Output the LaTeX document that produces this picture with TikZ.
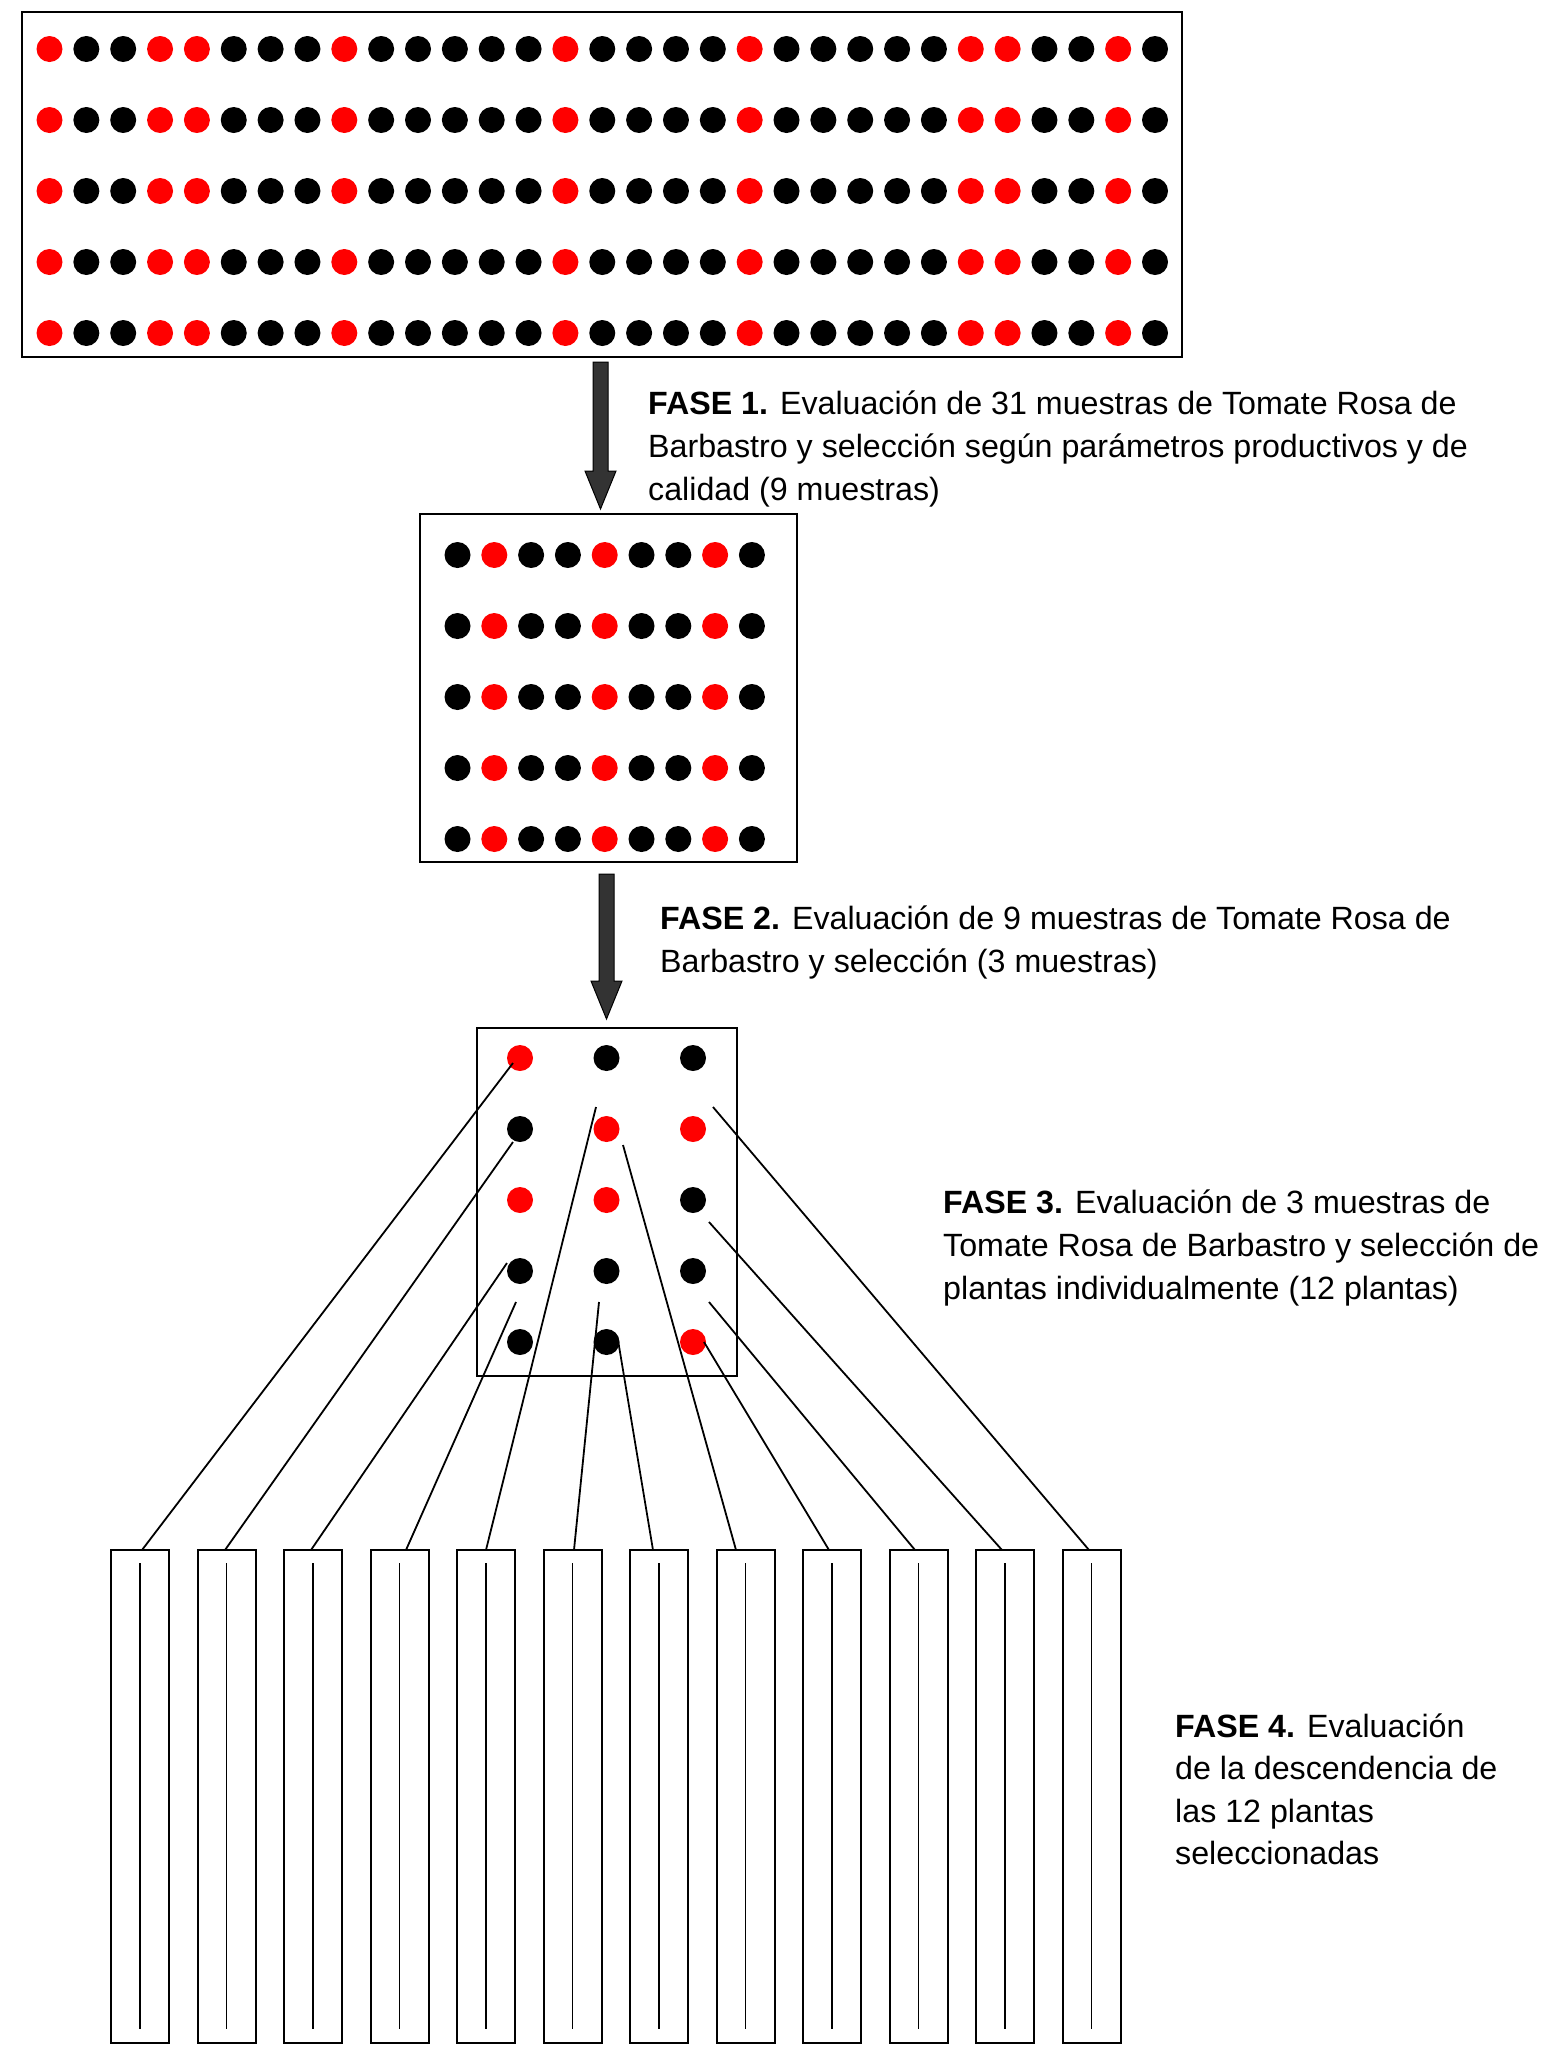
\documentclass[tikz,border=0pt]{standalone}
\usepackage{fontspec}
\setmainfont{Liberation Sans}
\definecolor{arrowgray}{HTML}{333333}
\begin{document}
\begin{tikzpicture}[x=1pt,y=-1pt,
  frame/.style={draw, line width=2pt, inner sep=0pt},
  dotB/.style={circle, fill=black, inner sep=0pt, minimum size=26pt},
  dotR/.style={circle, fill=red, inner sep=0pt, minimum size=26pt},
  conn/.style={line width=1.8pt},
  plotbox/.style={draw, line width=2pt, inner sep=0pt, minimum width=58pt, minimum height=493pt},
  blockarrow/.style={fill=arrowgray, draw=black, line width=1pt},
  txt/.style={anchor=base west, inner sep=0pt, font=\fontsize{32.2}{43}\selectfont}]
\useasboundingbox (0,0) rectangle (1542,2046);

% ---------- Phase 0: field with 31 samples
\node[frame, minimum width=1160pt, minimum height=345pt] (field) at (602,184.5) {};
\foreach \r in {1,...,5}{
  \foreach \c [count=\i] in {R,B,B,R,R,B,B,B,R,B,B,B,B,B,R,B,B,B,B,R,B,B,B,B,B,R,R,B,B,R,B}{
    \node[dot\c] (t-\r-\i) at ({49.5+(\i-1)*36.85},{49+(\r-1)*71}) {};
  }
}

% ---------- arrow 1
\begin{scope}[shift={(600.5,362)}]
  \path[blockarrow] (-7.5,0) -- (7.5,0) -- (7.5,109) -- (15.5,109) -- (0,147) -- (-15.5,109) -- (-7.5,109) -- cycle;
\end{scope}

\node[txt] (f1a) at (648,414) {\textbf{FASE 1.} Evaluación de 31 muestras de Tomate Rosa de};
\node[txt] (f1b) at (648,457) {Barbastro y selección según parámetros productivos y de};
\node[txt] (f1c) at (648,500) {calidad (9 muestras)};

% ---------- Phase 1 result: 9 samples
\node[frame, minimum width=377pt, minimum height=348pt] (mid) at (608.5,688) {};
\foreach \r in {1,...,5}{
  \foreach \c [count=\i] in {B,R,B,B,R,B,B,R,B}{
    \node[dot\c] (m-\r-\i) at ({457.5+(\i-1)*36.8},{555+(\r-1)*71}) {};
  }
}

% ---------- arrow 2
\begin{scope}[shift={(606.5,874)}]
  \path[blockarrow] (-7.5,0) -- (7.5,0) -- (7.5,107) -- (15.5,107) -- (0,145) -- (-15.5,107) -- (-7.5,107) -- cycle;
\end{scope}

\node[txt] (f2a) at (660,929) {\textbf{FASE 2.} Evaluación de 9 muestras de Tomate Rosa de};
\node[txt] (f2b) at (660,972) {Barbastro y selección (3 muestras)};

% ---------- Phase 2 result: 3 samples
\node[frame, minimum width=260pt, minimum height=348pt] (three) at (606.5,1202) {};
\foreach \row [count=\r] in {{R,B,B},{B,R,R},{R,R,B},{B,B,B},{B,B,R}}{
  \foreach \c [count=\i] in \row {
    \node[dot\c] (s-\r-\i) at ({520+(\i-1)*86.5},{1058+(\r-1)*71}) {};
  }
}

\node[txt] (f3a) at (943,1213) {\textbf{FASE 3.} Evaluación de 3 muestras de};
\node[txt] (f3b) at (943,1256) {Tomate Rosa de Barbastro y selección de};
\node[txt] (f3c) at (943,1299) {plantas individualmente (12 plantas)};

% ---------- 12 progeny plots
\foreach \i in {1,...,12}{
  \node[plotbox] (b\i) at ({140+(\i-1)*86.5},1796.5) {};
  \draw[conn] ([yshift=-14pt]b\i.north) -- ([yshift=15pt]b\i.south);
}

% ---------- selected plant start points and connectors
\foreach \i/\sx/\sy/\ex in {1/513/1063/142, 2/513/1142/225, 3/507/1263/311, 4/516/1302/406,
    5/596/1107/486, 6/599/1302/574, 7/618/1340/653, 8/623/1145/736,
    9/704/1342/829, 10/709/1302/915, 11/709/1222/1002, 12/713/1107/1089}{
  \coordinate (p\i) at (\sx,\sy);
  \coordinate (q\i) at (\ex,1550);
  \draw[conn] (p\i) -- (q\i);
}

\node[txt] (f4a) at (1175,1737) {\textbf{FASE 4.} Evaluación};
\node[txt] (f4b) at (1175,1779) {de la descendencia de};
\node[txt] (f4c) at (1175,1822) {las 12 plantas};
\node[txt] (f4d) at (1175,1864) {seleccionadas};
\end{tikzpicture}
\end{document}
